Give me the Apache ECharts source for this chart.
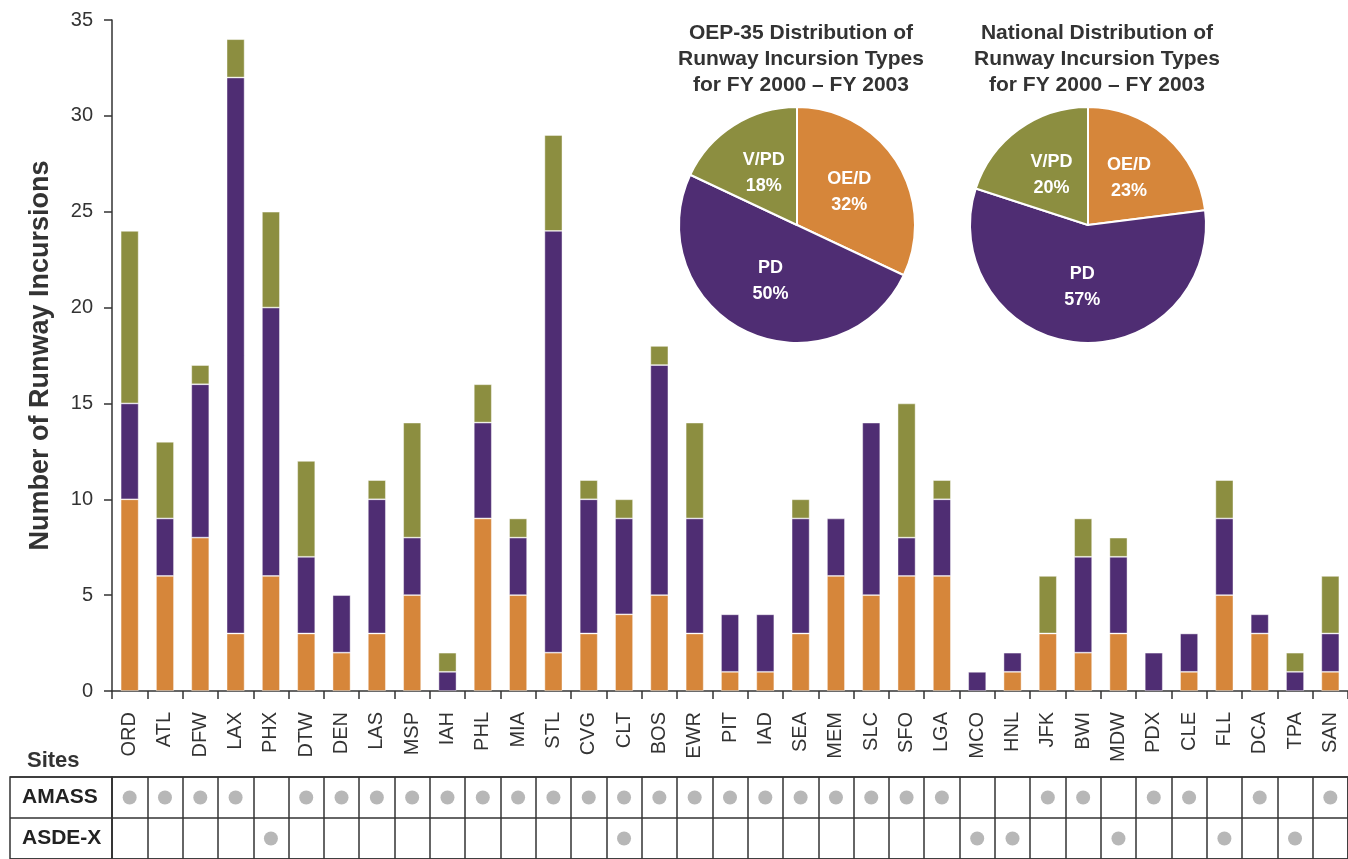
<!DOCTYPE html>
<html>
<head>
<meta charset="utf-8">
<script src="https://cdn.jsdelivr.net/npm/echarts@6/dist/echarts.min.js"></script>
<style>
html,body{margin:0;padding:0;background:#fff;}
#chart{width:1348px;height:859px;}
</style>
</head>
<body>
<div id="chart"></div>
<script>
const sites = ['ORD','ATL','DFW','LAX','PHX','DTW','DEN','LAS','MSP','IAH','PHL','MIA','STL','CVG','CLT','BOS','EWR','PIT','IAD','SEA','MEM','SLC','SFO','LGA','MCO','HNL','JFK','BWI','MDW','PDX','CLE','FLL','DCA','TPA','SAN'];
const oed = [10,6,8,3,6,3,2,3,5,0,9,5,2,3,4,5,3,1,1,3,6,5,6,6,0,1,3,2,3,0,1,5,3,0,1];
const pd  = [5,3,8,29,14,4,3,7,3,1,5,3,22,7,5,12,6,3,3,6,3,9,2,4,1,1,0,5,4,2,2,4,1,1,2];
const vpd = [9,4,1,2,5,5,0,1,6,1,2,1,5,1,1,1,5,0,0,1,0,0,7,1,0,0,3,2,1,0,0,2,0,1,3];
const amass = [1,1,1,1,0,1,1,1,1,1,1,1,1,1,1,1,1,1,1,1,1,1,1,1,0,0,1,1,0,1,1,0,1,0,1];
const asdex = [0,0,0,0,1,0,0,0,0,0,0,0,0,0,1,0,0,0,0,0,0,0,0,0,1,1,0,0,1,0,0,1,0,1,0];
const typeNames = ['OE/D','PD','V/PD'];
const oepShare = [32,50,18];
const nationalShare = [23,57,20];
const yTicks = [0,5,10,15,20,25,30,35];
const tableRows = ['ASDE-X','AMASS'];

const colors = ['#D6863A','#4F2D73','#8C8E40'];
const ink = '#333';
const font = 'Liberation Sans, Arial, Helvetica, sans-serif';

const chart = echarts.init(document.getElementById('chart'));
const nz = arr => arr.map(v => v === 0 ? null : v);
const barStyle = c => ({color: c, borderColor: 'rgba(255,255,255,0.55)', borderWidth: 0.8});

const dots = [];
sites.forEach((s, i) => {
  if (amass[i]) dots.push([s, 'AMASS']);
  if (asdex[i]) dots.push([s, 'ASDE-X']);
});

const pieLabel = {
  show: true, position: 'inside', color: '#fff', fontWeight: 'bold',
  fontSize: 18, lineHeight: 26, fontFamily: font,
  formatter: p => p.name + '\n' + p.value + '%'
};

const option = {
  animation: false,
  textStyle: {fontFamily: font},
  title: [
    {text: 'OEP-35 Distribution of\nRunway Incursion Types\nfor FY 2000 – FY 2003', left: 796, top: 15, textAlign: 'center',
     textStyle: {fontSize: 21, fontWeight: 'bold', color: ink, lineHeight: 26, fontFamily: font}},
    {text: 'National Distribution of\nRunway Incursion Types\nfor FY 2000 – FY 2003', left: 1092, top: 15, textAlign: 'center',
     textStyle: {fontSize: 21, fontWeight: 'bold', color: ink, lineHeight: 26, fontFamily: font}},
    {text: 'Sites', left: 22, top: 745,
     textStyle: {fontSize: 22, fontWeight: 'bold', color: ink, fontFamily: font}}
  ],
  grid: [
    {left: 112, top: 20, width: 1241, height: 671},
    {left: 112, top: 777, width: 1241, height: 86, show: true, borderColor: ink, borderWidth: 1.5},
    {left: 10, top: 777, width: 102, height: 86, show: true, borderColor: ink, borderWidth: 1.5}
  ],
  xAxis: [
    {type: 'category', gridIndex: 0, data: sites, boundaryGap: true,
     axisLine: {lineStyle: {color: ink, width: 1.5}},
     axisTick: {show: true, length: 8, lineStyle: {color: ink, width: 1.5}},
     axisLabel: {rotate: 90, fontSize: 20, color: ink, margin: 21, interval: 0, fontFamily: font}},
    {type: 'category', gridIndex: 1, data: sites, boundaryGap: true,
     axisLine: {show: false}, axisTick: {show: false}, axisLabel: {show: false},
     splitLine: {show: true, interval: 0, lineStyle: {color: ink, width: 1.5}}},
    {type: 'value', gridIndex: 2, show: false}
  ],
  yAxis: [
    {type: 'value', gridIndex: 0, min: 0, max: 35, interval: 5,
     name: 'Number of Runway Incursions', nameLocation: 'middle', nameGap: 58, nameRotate: 90,
     nameTextStyle: {fontSize: 27, fontWeight: 'bold', color: ink, fontFamily: font},
     axisLine: {show: true, lineStyle: {color: ink, width: 1.5}},
     axisTick: {show: true, length: 8, lineStyle: {color: ink, width: 1.5}},
     axisLabel: {fontSize: 20, color: ink, margin: 19, fontFamily: font,
       customValues: yTicks},
     splitLine: {show: false}},
    {type: 'category', gridIndex: 1, data: tableRows, boundaryGap: true,
     axisLine: {show: false}, axisTick: {show: false}, axisLabel: {show: false},
     splitLine: {show: true, lineStyle: {color: ink, width: 1.5}}},
    {type: 'category', gridIndex: 2, data: tableRows, boundaryGap: true,
     axisLine: {show: false}, axisTick: {show: false},
     axisLabel: {inside: true, margin: 12, fontSize: 21, fontWeight: 'bold', color: '#222', fontFamily: font},
     splitLine: {show: true, lineStyle: {color: ink, width: 1.5}}}
  ],
  series: [
    {name: typeNames[0], type: 'bar', stack: 'all', xAxisIndex: 0, yAxisIndex: 0, barWidth: 18, data: nz(oed), itemStyle: barStyle(colors[0])},
    {name: typeNames[1], type: 'bar', stack: 'all', xAxisIndex: 0, yAxisIndex: 0, barWidth: 18, data: nz(pd), itemStyle: barStyle(colors[1])},
    {name: typeNames[2], type: 'bar', stack: 'all', xAxisIndex: 0, yAxisIndex: 0, barWidth: 18, data: nz(vpd), itemStyle: barStyle(colors[2])},
    {type: 'scatter', xAxisIndex: 1, yAxisIndex: 1, symbolSize: 14, data: dots, itemStyle: {color: '#A5A5A5'}, z: 5},
    {type: 'pie', center: [797, 225], radius: 118, startAngle: 90, clockwise: true,
     data: typeNames.map((n, i) => ({name: n, value: oepShare[i], itemStyle: {color: colors[i]}})),
     itemStyle: {borderColor: '#fff', borderWidth: 2}, label: pieLabel, labelLine: {show: false}},
    {type: 'pie', center: [1088, 225], radius: 118, startAngle: 90, clockwise: true,
     data: typeNames.map((n, i) => ({name: n, value: nationalShare[i], itemStyle: {color: colors[i]}})),
     itemStyle: {borderColor: '#fff', borderWidth: 2}, label: pieLabel, labelLine: {show: false}}
  ]
};
chart.setOption(option);
</script>
</body>
</html>
